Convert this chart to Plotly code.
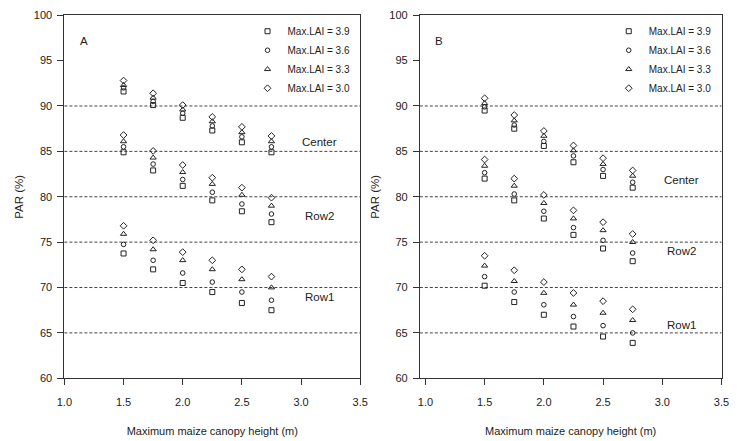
import plotly.graph_objects as go

# Maximum maize canopy height (m)
heights = [1.5, 1.75, 2.0, 2.25, 2.5, 2.75]

# Max. LAI levels and their marker symbols
lai_levels = [3.9, 3.6, 3.3, 3.0]
lai_symbols = ["square-open", "circle-open", "triangle-up-open", "diamond-open"]
lai_sizes = [5, 4.6, 5.4, 5.2]

position_names = ["Center", "Row2", "Row1"]

# PAR (%) for panel A; rows follow lai_levels (3.9, 3.6, 3.3, 3.0)
a_center = [
    [91.6, 90.1, 88.7, 87.3, 86.0, 84.9],
    [92.0, 90.5, 89.2, 87.8, 86.6, 85.5],
    [92.3, 90.9, 89.6, 88.3, 87.1, 86.1],
    [92.8, 91.4, 90.1, 88.8, 87.7, 86.7],
]
a_row2 = [
    [84.9, 82.9, 81.2, 79.6, 78.4, 77.2],
    [85.5, 83.6, 81.9, 80.5, 79.2, 78.1],
    [86.1, 84.3, 82.7, 81.4, 80.2, 79.0],
    [86.8, 85.05, 83.5, 82.1, 81.0, 79.9],
]
a_row1 = [
    [73.75, 72.0, 70.5, 69.5, 68.3, 67.5],
    [74.75, 73.0, 71.6, 70.6, 69.5, 68.6],
    [75.9, 74.2, 73.0, 72.0, 70.9, 70.0],
    [76.8, 75.2, 73.9, 73.0, 72.0, 71.2],
]

# PAR (%) for panel B
b_center = [
    [89.5, 87.5, 85.6, 83.8, 82.3, 81.0],
    [89.9, 87.9, 86.1, 84.5, 83.0, 81.6],
    [90.3, 88.4, 86.7, 85.1, 83.6, 82.3],
    [90.85, 89.0, 87.25, 85.65, 84.25, 82.9],
]
b_row2 = [
    [82.0, 79.6, 77.6, 75.8, 74.3, 72.9],
    [82.65, 80.3, 78.4, 76.6, 75.2, 73.8],
    [83.4, 81.2, 79.3, 77.6, 76.3, 75.0],
    [84.1, 82.0, 80.2, 78.5, 77.2, 75.9],
]
b_row1 = [
    [70.2, 68.4, 67.0, 65.7, 64.6, 63.9],
    [71.2, 69.5, 68.1, 66.8, 65.8, 65.0],
    [72.4, 70.7, 69.4, 68.1, 67.2, 66.4],
    [73.5, 71.9, 70.6, 69.4, 68.5, 67.6],
]

x_ticks = [1.0, 1.5, 2.0, 2.5, 3.0, 3.5]
y_ticks = [60, 65, 70, 75, 80, 85, 90, 95, 100]
ref_levels = [65, 70, 75, 80, 85, 90]

FONT = "Liberation Sans, Arial, sans-serif"
INK = "#222222"

fig = go.Figure()

panels = [
    ("A", "x", "y", "legend", [a_center, a_row2, a_row1]),
    ("B", "x2", "y2", "legend2", [b_center, b_row2, b_row1]),
]

for tag, xa, ya, leg, groups in panels:
    for k, lai in enumerate(lai_levels):
        xs, ys = [], []
        for grp in groups:
            xs += heights
            ys += grp[k]
        fig.add_trace(go.Scatter(
            x=xs, y=ys, mode="markers", xaxis=xa, yaxis=ya,
            name=f"Max.LAI = {lai:.1f}", legend=leg,
            marker=dict(symbol=lai_symbols[k], size=lai_sizes[k],
                        color=INK, line=dict(color=INK, width=1)),
            cliponaxis=False,
        ))

y_dom = [0.1322, 0.9785]
axis_common = dict(
    showline=True, linecolor="#333333", linewidth=1, mirror=True,
    ticks="outside", ticklen=6, tickwidth=1, tickcolor="#333333",
    showgrid=False, zeroline=False,
    tickfont=dict(family=FONT, size=11, color=INK),
)
xtitle = dict(text="Maximum maize canopy height (m)",
              font=dict(family=FONT, size=11, color=INK), standoff=19)
ytitle = dict(text="PAR (%)", font=dict(family=FONT, size=11.5, color=INK), standoff=7)

fig.update_layout(
    width=737, height=441,
    margin=dict(l=0, r=0, t=0, b=0),
    paper_bgcolor="white", plot_bgcolor="white",
    font=dict(family=FONT, color=INK),
    xaxis=dict(domain=[0.0782, 0.4885], range=[1.0, 3.5], tickvals=x_ticks,
               ticktext=[f"{v:.1f}" for v in x_ticks], anchor="y",
               ticklabelstandoff=8, title=xtitle, **axis_common),
    yaxis=dict(domain=y_dom, range=[60, 100], tickvals=y_ticks, anchor="x",
               ticklabelstandoff=3, title=ytitle, **axis_common),
    xaxis2=dict(domain=[0.5712, 0.9896], range=[0.953, 3.5], tickvals=x_ticks,
                ticktext=[f"{v:.1f}" for v in x_ticks], anchor="y2",
                ticklabelstandoff=8, title=xtitle, **axis_common),
    yaxis2=dict(domain=y_dom, range=[60, 100], tickvals=y_ticks, anchor="x2",
                ticklabelstandoff=3, title=ytitle, **axis_common),
    legend=dict(x=0.482, y=0.975, xanchor="right", yanchor="top",
                bgcolor="rgba(0,0,0,0)", borderwidth=0,
                font=dict(family=FONT, size=10, color=INK)),
    legend2=dict(x=0.983, y=0.975, xanchor="right", yanchor="top",
                 bgcolor="rgba(0,0,0,0)", borderwidth=0,
                 font=dict(family=FONT, size=10, color=INK)),
)

# Dotted reference levels across each panel
for ya, xa in [("y", "x"), ("y2", "x2")]:
    for lvl in ref_levels:
        fig.add_shape(type="line", xref=f"{xa} domain", x0=0, x1=1,
                      yref=ya, y0=lvl, y1=lvl,
                      line=dict(color="#444444", width=1, dash="3px,2px"),
                      layer="below")

# Panel letters
for tag, xa, ya, _, _ in panels:
    fig.add_annotation(text=tag, xref=f"{xa} domain", yref=f"{ya} domain",
                       x=0.045, y=0.95, showarrow=False,
                       font=dict(family=FONT, size=11.5, color=INK))

# Canopy position labels
label_y = {"A": [86.0, 77.9, 69.0], "B": [81.9, 74.0, 65.9]}
for tag, xa, ya, _, _ in panels:
    for name, yv in zip(position_names, label_y[tag]):
        fig.add_annotation(text=name, x=3.16, y=yv, xref=xa, yref=ya,
                           showarrow=False,
                           font=dict(family=FONT, size=11.5, color=INK))

fig.write_html("out.html")
